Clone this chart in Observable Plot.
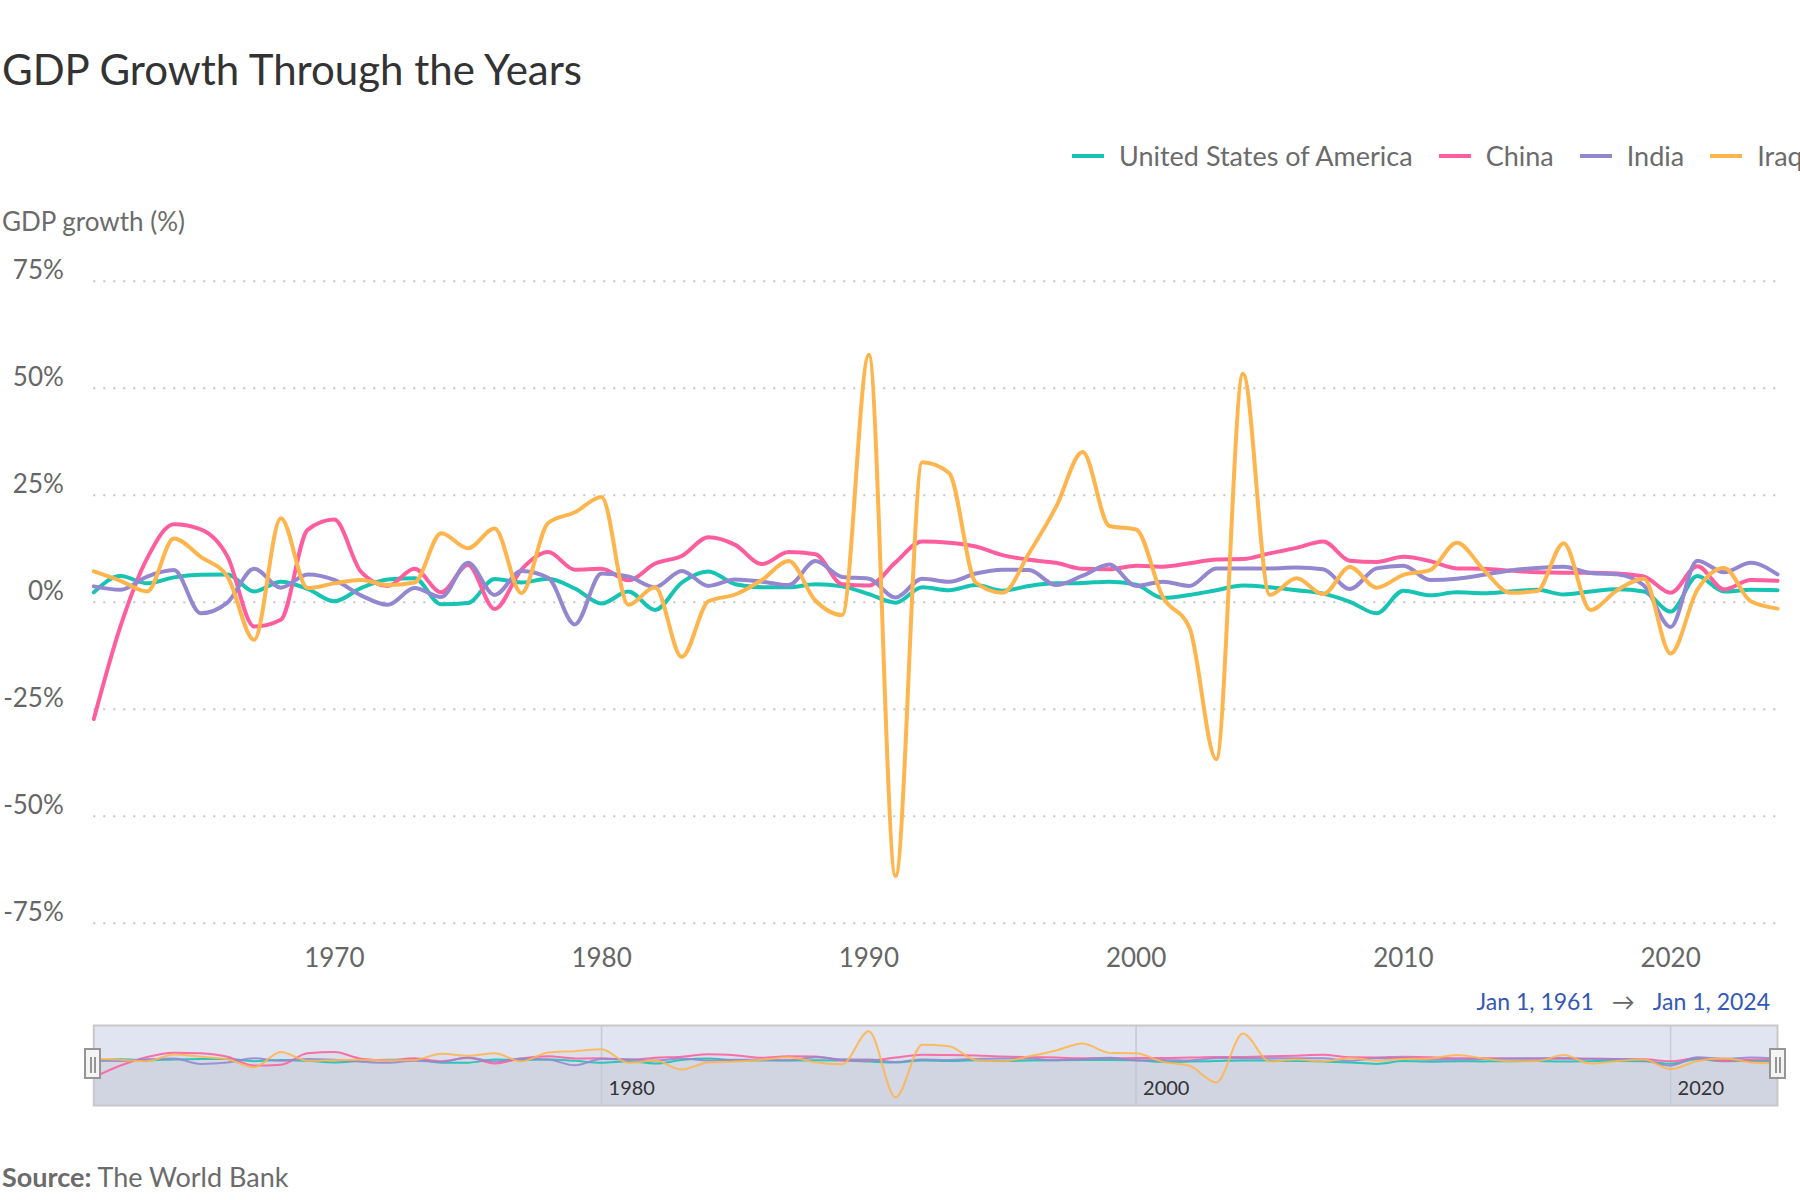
<!DOCTYPE html>
<html>
<head>
<meta charset="utf-8">
<title>GDP Growth Through the Years</title>
<script src="https://cdn.jsdelivr.net/npm/d3@7"></script>
<script src="https://cdn.jsdelivr.net/npm/@observablehq/plot@0.6"></script>
<style>
  html, body { margin: 0; padding: 0; background: #fff; }
  body { width: 1800px; height: 1200px; overflow: hidden; position: relative; font-family: Lato, "Noto Sans", sans-serif; }
  .abs { position: absolute; white-space: nowrap; line-height: 1; }
  #title { left: 2px; top: 48px; font-size: 42px; color: #333; }
  #legend { left: 1072px; top: 142px; display: flex; align-items: center; font-size: 27px; color: #6b6b6b; }
  .item { display: flex; align-items: center; margin-right: 26px; }
  .swatch { width: 32px; height: 4px; margin-right: 15px; }
  #ylabel { left: 2px; top: 208px; font-size: 26px; color: #6b6b6b; }
  #range { right: 30px; top: 990px; font-size: 23px; color: #3358b5; }
  #range .arrow { color: #666; margin: 0 18px; }
  #source { left: 2px; top: 1163px; font-size: 27px; color: #6b6b6b; }
  #main { position: absolute; left: 0; top: 250px; }
  #nav { position: absolute; left: 0; top: 1000px; }
  .handle { position: absolute; top: 1048px; width: 17px; height: 31px; box-sizing: border-box;
            border: 2px solid #959595; background: #f4f4f4; }
  .handle::before, .handle::after { content: ""; position: absolute; top: 7px; width: 2px; height: 16px; background: #959595; }
  .handle::before { left: 4px; }
  .handle::after { left: 8px; }
</style>
</head>
<body>
<div id="title" class="abs">GDP Growth Through the Years</div>
<div id="legend" class="abs"></div>
<div id="ylabel" class="abs">GDP growth (%)</div>
<div id="main"></div>
<div id="range" class="abs"></div>
<div id="nav"></div>
<div class="handle" style="left:84px"></div>
<div class="handle" style="left:1769px"></div>
<div id="source" class="abs"><b>Source:</b> The World Bank</div>
<script>
// Annual GDP growth (%), 1961–2024
const firstYear = 1961;
const lastYear = 2024;

const countries = ["United States of America", "China", "India", "Iraq"];
const colors = ["#17c3b2", "#ff5e9e", "#9487d0", "#ffb54d"];

const usa = [
  2.3, 6.1, 4.4, 5.8, 6.4, 6.5, 2.5, 4.8, 3.1, 0.2,
  3.3, 5.3, 5.6, -0.5, -0.2, 5.4, 4.6, 5.5, 3.2, -0.3,
  2.5, -1.8, 4.6, 7.2, 4.2, 3.5, 3.5, 4.2, 3.7, 1.9,
  -0.1, 3.5, 2.8, 4.0, 2.7, 3.8, 4.4, 4.5, 4.8, 4.1,
  1.0, 1.7, 2.8, 3.9, 3.5, 2.8, 2.0, 0.1, -2.6, 2.7,
  1.6, 2.3, 2.1, 2.5, 2.9, 1.8, 2.5, 3.0, 2.5, -2.2,
  6.1, 2.5, 2.9, 2.8
];
const china = [
  -27.3, -5.6, 10.3, 18.2, 17.0, 10.7, -5.7, -4.1, 16.9, 19.3,
  7.1, 3.8, 7.8, 2.3, 8.7, -1.6, 7.6, 11.7, 7.6, 7.8,
  5.1, 9.0, 10.8, 15.2, 13.4, 8.9, 11.7, 11.2, 4.2, 3.9,
  9.3, 14.2, 13.9, 13.0, 11.0, 9.9, 9.2, 7.8, 7.7, 8.5,
  8.3, 9.1, 10.0, 10.1, 11.4, 12.7, 14.2, 9.7, 9.4, 10.6,
  9.6, 7.9, 7.8, 7.4, 7.0, 6.9, 6.9, 6.7, 6.0, 2.2,
  8.4, 3.0, 5.2, 5.0
];
const india = [
  3.7, 2.9, 6.0, 7.5, -2.6, -0.1, 7.8, 3.4, 6.5, 5.2,
  1.6, -0.6, 3.3, 1.2, 9.2, 1.7, 7.3, 5.7, -5.2, 6.7,
  6.0, 3.5, 7.3, 3.8, 5.3, 4.8, 4.0, 9.6, 5.9, 5.5,
  1.1, 5.5, 4.8, 6.7, 7.6, 7.5, 4.0, 6.2, 8.8, 3.8,
  4.8, 3.8, 7.9, 7.9, 7.9, 8.1, 7.7, 3.1, 7.9, 8.5,
  5.2, 5.5, 6.4, 7.4, 8.0, 8.3, 6.8, 6.5, 3.9, -5.8,
  9.7, 7.0, 9.2, 6.5
];
const iraq = [
  7.2, 5.0, 2.5, 14.9, 10.6, 6.0, -8.8, 19.6, 3.3, 4.4,
  5.2, 4.0, 4.6, 16.1, 12.6, 17.2, 2.1, 18.5, 21.0, 24.6,
  -0.6, 3.5, -12.8, 0.2, 1.8, 5.2, 9.6, 0.4, -3.0, 57.8,
  -64.0, 32.7, 30.2, 4.6, 2.2, 11.5, 22.2, 35.1, 17.8, 17.0,
  1.2, -6.0, -36.7, 53.4, 1.7, 5.6, 1.9, 8.2, 3.4, 6.4,
  7.5, 13.9, 7.6, 2.2, 2.6, 13.8, -1.8, 2.8, 5.5, -12.0,
  2.9, 8.0, 0.2, -1.5
];

const xTicks = [1970, 1980, 1990, 2000, 2010, 2020];
const yTicks = [-75, -50, -25, 0, 25, 50, 75];
const navTicks = [1980, 2000, 2020];

const toDate = y => new Date(Date.UTC(y, 0, 1));
const years = d3.range(firstYear, lastYear + 1);
const seriesValues = [usa, china, india, iraq];

const rows = [];
countries.forEach((name, k) => {
  years.forEach((yr, i) => rows.push({country: name, date: toDate(yr), value: seriesValues[k][i]}));
});

const xDomain = [toDate(firstYear), toDate(lastYear)];
const colorScale = {domain: countries, range: colors};
const yearFmt = d3.utcFormat("%Y");
const font = "Lato, 'Noto Sans', sans-serif";

// legend
const legend = d3.select("#legend");
countries.forEach((name, k) => {
  const item = legend.append("div").attr("class", "item");
  item.append("div").attr("class", "swatch").style("background", colors[k]);
  item.append("span").text(name);
});

// main chart
const main = Plot.plot({
  width: 1800,
  height: 745,
  marginLeft: 93.3,
  marginRight: 23,
  marginTop: 30.7,
  marginBottom: 72.3,
  style: {fontFamily: font, fontSize: "26px", color: "#666", overflow: "visible", background: "transparent"},
  x: {type: "utc", domain: xDomain},
  y: {domain: [-75, 75]},
  color: colorScale,
  marks: [
    Plot.gridY(yTicks, {stroke: "#c4c4c4", strokeOpacity: 1, strokeWidth: 2, strokeDasharray: "2,8"}),
    Plot.axisY(yTicks, {tickSize: 0, tickPadding: 30, tickFormat: d => d + "%", dy: -11, label: null, fill: "#666"}),
    Plot.axisX(xTicks.map(toDate), {tickSize: 0, tickPadding: 25, tickFormat: yearFmt, label: null, fill: "#666"}),
    Plot.line(rows, {x: "date", y: "value", z: "country", stroke: "country", strokeWidth: 4, curve: "monotone-x"})
  ]
});
document.getElementById("main").append(main);

// navigator strip
const ext = d3.extent(rows, d => d.value);
const nav = Plot.plot({
  width: 1800,
  height: 120,
  marginLeft: 93.3,
  marginRight: 23,
  marginTop: 25,
  marginBottom: 15,
  style: {fontFamily: font, fontSize: "20px", overflow: "visible", background: "transparent"},
  x: {type: "utc", domain: xDomain, axis: null},
  y: {domain: ext, insetTop: 5.7, insetBottom: 8.3, axis: null},
  color: colorScale,
  marks: [
    Plot.frame({fill: "#e0e5f1", stroke: null}),
    Plot.areaY(rows, {x: "date", y1: ext[0] - 40, y2: "value", z: "country", fill: "#aca8ba", fillOpacity: 0.07, curve: "monotone-x", clip: true}),
    Plot.ruleX(navTicks.map(toDate), {stroke: "#c6c9d5", strokeWidth: 1.5}),
    Plot.text(navTicks.map(toDate), {x: d => d, text: yearFmt, frameAnchor: "bottom", dy: -11, dx: 7, textAnchor: "start", fill: "#333", fontSize: 20}),
    Plot.line(rows, {x: "date", y: "value", z: "country", stroke: "country", strokeWidth: 2, strokeOpacity: 0.88, curve: "monotone-x"}),
    Plot.frame({stroke: "#c8c8c8", strokeWidth: 2})
  ]
});
document.getElementById("nav").append(nav);

// selected range label
const rangeFmt = d3.utcFormat("%b %-d, %Y");
const range = d3.select("#range");
range.append("span").text(rangeFmt(xDomain[0]));
range.append("span").attr("class", "arrow").text("→");
range.append("span").text(rangeFmt(xDomain[1]));
</script>
</body>
</html>
